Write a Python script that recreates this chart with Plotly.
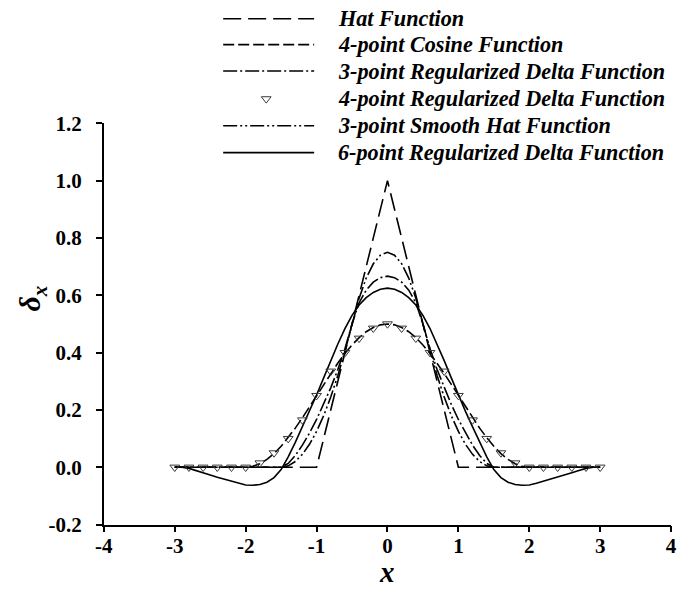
import plotly.graph_objects as go

# ---------------------------------------------------------------------------
# Kernel values (discrete delta functions) sampled on x in [-3, 3]
# ---------------------------------------------------------------------------
X_GRID = [round(-3.0 + 0.1 * i, 1) for i in range(61)]
X_COARSE = [round(-3.0 + 0.2 * i, 1) for i in range(31)]

hat_x = [-3.0, -1.0, 0.0, 1.0, 3.0]
hat_y = [0.0, 0.0, 1.0, 0.0, 0.0]

cosine4_y = [0, 0, 0, 0, 0, 0, 0, 0, 0, 0,
             0.0, 0.0031, 0.0122, 0.0273, 0.0477, 0.0732, 0.1031, 0.1365, 0.1727, 0.2109,
             0.25, 0.2891, 0.3273, 0.3635, 0.3969, 0.4268, 0.4523, 0.4728, 0.4878, 0.4969,
             0.5,
             0.4969, 0.4878, 0.4728, 0.4523, 0.4268, 0.3969, 0.3635, 0.3273, 0.2891, 0.25,
             0.2109, 0.1727, 0.1365, 0.1031, 0.0732, 0.0477, 0.0273, 0.0122, 0.0031, 0.0,
             0, 0, 0, 0, 0, 0, 0, 0, 0, 0]

reg3_y = [0, 0, 0, 0, 0, 0, 0, 0, 0, 0, 0, 0, 0, 0, 0,
          0.0, 0.0132, 0.0409, 0.0770, 0.1192, 0.1667, 0.2192, 0.2770, 0.3409, 0.4132,
          0.5, 0.5737, 0.6181, 0.6460, 0.6616,
          0.6667,
          0.6616, 0.6460, 0.6181, 0.5737, 0.5,
          0.4132, 0.3409, 0.2770, 0.2192, 0.1667, 0.1192, 0.0770, 0.0409, 0.0132, 0.0,
          0, 0, 0, 0, 0, 0, 0, 0, 0, 0, 0, 0, 0, 0, 0]

smooth_hat3_y = [0, 0, 0, 0, 0, 0, 0, 0, 0, 0, 0, 0, 0, 0, 0,
                 0.0, 0.005, 0.02, 0.045, 0.08, 0.125, 0.18, 0.245, 0.32, 0.405,
                 0.5, 0.59, 0.66, 0.71, 0.74,
                 0.75,
                 0.74, 0.71, 0.66, 0.59, 0.5,
                 0.405, 0.32, 0.245, 0.18, 0.125, 0.08, 0.045, 0.02, 0.005, 0.0,
                 0, 0, 0, 0, 0, 0, 0, 0, 0, 0, 0, 0, 0, 0, 0]

reg6_y = [0.0, 0.0, -0.004, -0.011, -0.019, -0.027, -0.035, -0.042, -0.049, -0.056,
          -0.062, -0.063, -0.060, -0.052, -0.036, -0.008, 0.036, 0.087, 0.141, 0.195,
          0.252, 0.312, 0.372, 0.430, 0.484, 0.530, 0.566, 0.592, 0.610, 0.621,
          0.625,
          0.621, 0.610, 0.592, 0.566, 0.530, 0.484, 0.430, 0.372, 0.312, 0.252,
          0.195, 0.141, 0.087, 0.036, -0.008, -0.036, -0.052, -0.060, -0.063, -0.062,
          -0.056, -0.049, -0.042, -0.035, -0.027, -0.019, -0.011, -0.004, 0.0, 0.0]

reg4_y = [0, 0, 0, 0, 0,
          0.0, 0.0149, 0.05, 0.1, 0.1649, 0.25, 0.3351, 0.4, 0.45, 0.4851,
          0.5,
          0.4851, 0.45, 0.4, 0.3351, 0.25, 0.1649, 0.1, 0.05, 0.0149, 0.0,
          0, 0, 0, 0, 0]

x_ticks = [-4, -3, -2, -1, 0, 1, 2, 3, 4]
x_tick_text = ["-4", "-3", "-2", "-1", "0", "1", "2", "3", "4"]
y_ticks = [-0.2, 0.0, 0.2, 0.4, 0.6, 0.8, 1.0, 1.2]
y_tick_text = ["-0.2", "0.0", "0.2", "0.4", "0.6", "0.8", "1.0", "1.2"]

legend_labels = [
    "Hat Function",
    "4-point Cosine Function",
    "3-point Regularized Delta Function",
    "4-point Regularized Delta Function",
    "3-point Smooth Hat Function",
    "6-point Regularized Delta Function",
]

# ---------------------------------------------------------------------------
W, H = 681, 598
SERIF = "Liberation Serif"
LW = 1.6
TRI_COLOR = "#3a3a3a"

DASH_HAT = "18px,7px"
DASH_COS = "11px,4px"
DASH_REG3 = "14px,3px,2px,3px"
DASH_SMOOTH = "14px,3px,2px,3px,2px,3px"

# plot area in figure pixels
L, R, T, B = 97, 677, 116, 534

fig = go.Figure()

line_series = [
    (hat_x, hat_y, DASH_HAT),
    (X_GRID, cosine4_y, DASH_COS),
    (X_GRID, reg3_y, DASH_REG3),
    (X_GRID, smooth_hat3_y, DASH_SMOOTH),
    (X_GRID, reg6_y, "solid"),
]
for xs, ys, dash in line_series:
    fig.add_trace(go.Scatter(
        x=xs, y=ys, mode="lines",
        line=dict(color="black", width=LW, dash=dash),
        showlegend=False, hoverinfo="skip",
    ))

fig.add_trace(go.Scatter(
    x=X_COARSE, y=reg4_y, mode="markers",
    marker=dict(symbol="triangle-down-open", size=8.5,
                color=TRI_COLOR, line=dict(width=1, color=TRI_COLOR)),
    showlegend=False, hoverinfo="skip",
))

# ---------------------------------------------------------------------------
# Key drawn on a full-figure pixel overlay
# ---------------------------------------------------------------------------
row_y = [7, 34, 61.5, 90.5, 118.5, 146.5]
sample_x0, sample_x1, text_x = 219, 312, 334
key_styles = [DASH_HAT, DASH_COS, DASH_REG3, None, DASH_SMOOTH, "solid"]

for yy, dash in zip(row_y, key_styles):
    if dash is None:
        fig.add_trace(go.Scatter(
            x=[263], y=[yy], mode="markers",
            marker=dict(symbol="triangle-down-open", size=8.5,
                        color=TRI_COLOR, line=dict(width=1, color=TRI_COLOR)),
            xaxis="x2", yaxis="y2", showlegend=False, hoverinfo="skip",
        ))
    else:
        fig.add_trace(go.Scatter(
            x=[sample_x0, sample_x1], y=[yy, yy], mode="lines",
            line=dict(color="black", width=LW, dash=dash),
            xaxis="x2", yaxis="y2", showlegend=False, hoverinfo="skip",
        ))

annotations = []
for yy, label in zip(row_y, legend_labels):
    annotations.append(dict(
        text=label, xref="paper", yref="paper",
        x=text_x / W, y=1 - yy / H, xanchor="left", yanchor="middle",
        showarrow=False,
        font=dict(family=SERIF, size=22.2, color="black", weight="bold", style="italic"),
    ))

# axis titles
annotations.append(dict(
    text="δ<sub>x</sub>", xref="paper", yref="paper",
    x=24 / W, y=1 - 298 / H, xanchor="center", yanchor="middle",
    textangle=-90, showarrow=False,
    font=dict(family=SERIF, size=30, color="black", weight="bold", style="italic"),
))
annotations.append(dict(
    text="x", xref="paper", yref="paper",
    x=(L + R) / 2 / W, y=1 - 583 / H, xanchor="center", yanchor="middle",
    showarrow=False,
    font=dict(family=SERIF, size=29, color="black", weight="bold", style="italic"),
))

tick_font = dict(family=SERIF, size=21, color="black", weight="bold")

fig.update_layout(
    width=W, height=H,
    margin=dict(l=0, r=0, t=0, b=0),
    paper_bgcolor="white",
    plot_bgcolor="rgba(0,0,0,0)",
    showlegend=False,
    annotations=annotations,
    xaxis=dict(
        domain=[L / W, R / W], range=[-4, 4],
        tickvals=x_ticks, ticktext=x_tick_text,
        ticks="outside", ticklen=6, tickwidth=1.5, tickcolor="black",
        showline=True, linecolor="black", linewidth=1.8,
        showgrid=False, zeroline=False, tickfont=tick_font,
        ticklabelstandoff=-5, ticklabeloverflow="allow", anchor="y",
    ),
    yaxis=dict(
        domain=[1 - B / H, 1 - T / H], range=[-0.2, 1.2],
        tickvals=y_ticks, ticktext=y_tick_text,
        ticks="outside", ticklen=6, tickwidth=1.5, tickcolor="black",
        showline=True, linecolor="black", linewidth=1.8,
        showgrid=False, zeroline=False, tickfont=tick_font,
        ticklabelstandoff=10, ticklabeloverflow="allow", anchor="x",
    ),
    xaxis2=dict(domain=[0, 1], range=[0, W], visible=False, anchor="y2",
                fixedrange=True),
    yaxis2=dict(domain=[0, 1], range=[H, 0], visible=False, anchor="x2",
                fixedrange=True),
)

fig.write_html("out.html")
